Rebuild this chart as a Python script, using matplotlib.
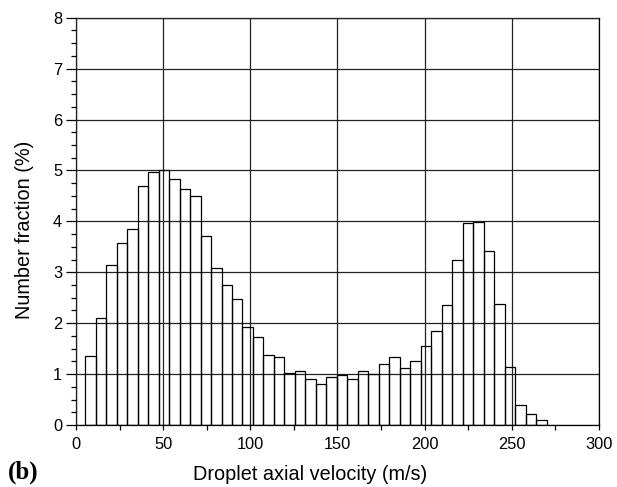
import matplotlib.pyplot as plt
import numpy as np
from matplotlib.ticker import MultipleLocator

plt.rcParams['font.family'] = ['Liberation Sans', 'DejaVu Sans']

# histogram of droplet axial velocity, bins of ~6 m/s
bin_start = 5.2
bin_width = 6.02
fraction = [1.35, 2.10, 3.14, 3.57, 3.84, 4.69, 4.96, 5.00, 4.83, 4.63,
            4.49, 3.72, 3.09, 2.75, 2.48, 1.92, 1.72, 1.37, 1.34, 1.02,
            1.06, 0.90, 0.80, 0.95, 0.98, 0.90, 1.06, 1.00, 1.19, 1.34,
            1.12, 1.25, 1.55, 1.84, 2.36, 3.24, 3.97, 3.98, 3.41, 2.37,
            1.13, 0.39, 0.21, 0.10]

xticks = [0, 50, 100, 150, 200, 250, 300]
yticks = [0, 1, 2, 3, 4, 5, 6, 7, 8]

left_edges = bin_start + bin_width * np.arange(len(fraction))

fig = plt.figure(figsize=(6.17, 4.87), dpi=100)
ax = fig.add_axes([0.1232, 0.1273, 0.8476, 0.8364])

ax.bar(left_edges, fraction, width=bin_width, align='edge',
       facecolor='none', edgecolor='black', linewidth=0.9, zorder=3)

ax.set_xlim(0, 300)
ax.set_ylim(0, 8)
ax.set_xticks(xticks)
ax.set_yticks(yticks)
ax.xaxis.set_minor_locator(MultipleLocator(25))
ax.yaxis.set_minor_locator(MultipleLocator(0.25))
ax.grid(True, which='major', color='#222222', linewidth=0.9, zorder=2)
ax.set_axisbelow(False)

ax.tick_params(axis='x', which='both', direction='out', length=3.5, width=0.9,
               labelsize=11.8, pad=5)
ax.tick_params(axis='y', which='major', direction='out', length=7, width=0.9,
               labelsize=11.8, pad=3)
ax.tick_params(axis='y', which='minor', direction='out', length=3.5, width=0.9)
for sp in ax.spines.values():
    sp.set_linewidth(0.9)

ax.set_xlabel('Droplet axial velocity (m/s)', fontsize=14.3)
ax.set_ylabel('Number fraction (%)', fontsize=14.3)
ax.xaxis.set_label_coords(0.447, -0.097)
ax.yaxis.set_label_coords(-0.080, 0.48)

fig.text(0.013, 0.018, '(b)', fontsize=18, fontweight='bold',
         family=['Liberation Serif', 'DejaVu Serif'])

fig.savefig('out.png', dpi=100)
